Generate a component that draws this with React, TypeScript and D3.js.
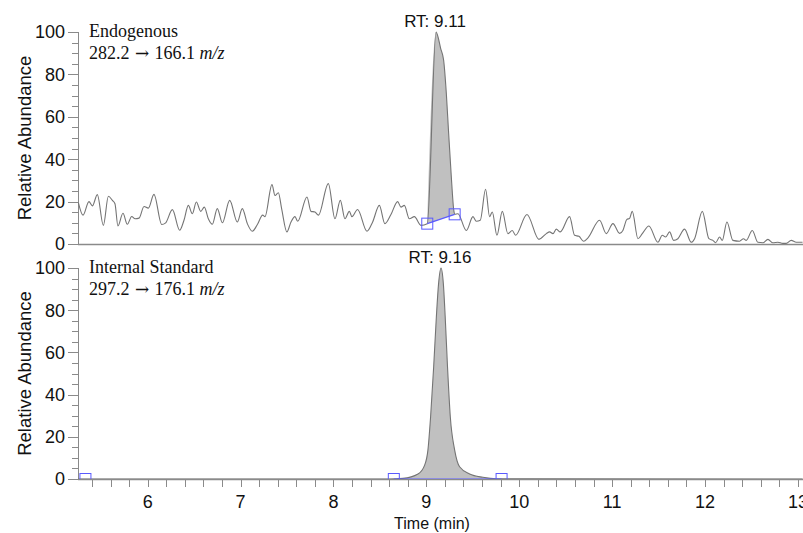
import React from "react";
import * as d3 from "d3";

// ---------- data ----------
const topTime = [
  5.254, 5.304, 5.368, 5.405, 5.458, 5.523, 5.577, 5.62, 5.648, 5.68, 5.734, 5.781, 5.828, 5.864, 5.907, 5.961,
  6.007, 6.068, 6.151, 6.194, 6.266, 6.344, 6.391, 6.438, 6.481, 6.524, 6.571, 6.61, 6.653, 6.696, 6.75, 6.804,
  6.883, 6.965, 7.019, 7.073, 7.127, 7.181, 7.238, 7.263, 7.338, 7.371, 7.407, 7.442, 7.499, 7.543, 7.586, 7.615,
  7.715, 7.758, 7.801, 7.838, 7.945, 8.016, 8.074, 8.124, 8.171, 8.199, 8.26, 8.361, 8.422, 8.494, 8.554, 8.619,
  8.691, 8.727, 8.763, 8.817, 8.871, 8.942, 9.01, 9.105, 9.125, 9.154, 9.186, 9.215, 9.24, 9.269, 9.294, 9.305,
  9.34, 9.431, 9.502, 9.538, 9.581, 9.638, 9.681, 9.71, 9.76, 9.818, 9.878, 9.925, 9.961, 10.083, 10.212, 10.292,
  10.327, 10.363, 10.399, 10.442, 10.542, 10.596, 10.643, 10.693, 10.74, 10.865, 10.937, 11.009, 11.081, 11.116,
  11.159, 11.188, 11.217, 11.278, 11.325, 11.396, 11.493, 11.54, 11.576, 11.619, 11.662, 11.708, 11.78, 11.852,
  11.888, 11.971, 12.042, 12.085, 12.114, 12.157, 12.186, 12.236, 12.3, 12.372, 12.415, 12.444, 12.509, 12.569,
  12.623, 12.677, 12.731, 12.785, 12.838, 12.874, 12.928, 12.982, 13.05,
];
const topValue = [
  19.5, 13.6, 20.0, 18.0, 23.3, 8.8, 22.5, 20.6, 19.0, 8.5, 14.5, 9.3, 13.0, 11.9, 12.2, 17.7,
  16.9, 23.4, 9.2, 10.0, 16.2, 6.5, 11.2, 18.2, 14.3, 19.8, 15.4, 17.4, 11.9, 9.3, 16.7, 10.0,
  20.6, 10.4, 16.7, 9.6, 6.0, 9.2, 13.6, 12.9, 28.0, 22.9, 24.2, 16.7, 5.7, 10.4, 12.9, 10.7,
  22.2, 15.4, 15.1, 13.6, 28.5, 11.9, 20.6, 11.9, 15.4, 12.9, 16.3, 6.0, 10.4, 18.2, 9.6, 13.9,
  20.0, 17.4, 18.2, 11.9, 12.9, 8.8, 9.6, 100, 97.8, 92.3, 86.8, 71.2, 52.4, 31.6, 16.5, 14.0,
  14.3, 6.4, 12.9, 10.7, 11.2, 25.8, 12.9, 15.1, 4.1, 15.4, 4.9, 6.4, 4.1, 13.9, 2.2, 4.9,
  5.7, 4.9, 7.0, 5.7, 12.9, 4.1, 3.6, 1.3, 2.9, 11.2, 4.9, 9.6, 5.0, 6.4,
  11.6, 12.1, 15.4, 2.5, 4.9, 8.5, 0.8, 4.1, 3.3, 5.7, 1.7, 2.5, 7.0, 0.8,
  2.5, 15.4, 2.5, 1.7, 0.6, 3.3, 1.7, 10.4, 1.7, 1.3, 2.5, 1.7, 6.4, 0.8,
  0.6, 2.2, 0.6, 0.8, 0.3, 0.3, 1.7, 0.8, 0.8,
];
const topBoundTime = [9.01, 9.305];
const topBoundValue = [9.6, 14.0];

const botTime = [
  5.25, 8.6, 8.748, 8.91, 8.982, 9.017, 9.046, 9.079, 9.108, 9.132, 9.158, 9.183, 9.203, 9.228, 9.258, 9.305,
  9.358, 9.466, 9.609, 9.754, 13.05,
];
const botValue = [
  0, 0, 0.3, 2.4, 6.6, 13.7, 29.5, 53.2, 76.9, 92.7, 100, 92.7, 76.9, 53.2, 29.5, 13.7,
  5.8, 2.4, 0.8, 0.1, 0,
];
const botBoundTime = [8.65, 9.81];
const botMarkerTime = [5.33, 8.65, 9.81];

const yTicks = [0, 20, 40, 60, 80, 100];
const yMinor = d3.range(0, 101, 5);
const xTickLabels = [6, 7, 8, 9, 10, 11, 12, 13];
const xMinor = d3.range(5.4, 13.05, 0.2);

// ---------- layout ----------
const W = 803;
const H = 533;
const X0 = 78;
const x = d3.scaleLinear().domain([5.25, 13.055]).range([X0, 803]);
const yTop = d3.scaleLinear().domain([0, 100]).range([244, 32]);
const yBot = d3.scaleLinear().domain([0, 100]).range([479, 268]);

const AX = "#8a8a8a";
const TRACE = "#747474";
const FILL = "#c0c0c0";
const BLUE = "#5a5aff";
const SANS = "'Liberation Sans', Arial, sans-serif";
const SERIF = "'Liberation Serif', 'Times New Roman', serif";

function lerpBaseline(bt: number[], bv: number[], t: number) {
  const f = (t - bt[0]) / (bt[1] - bt[0]);
  return bv[0] + f * (bv[1] - bv[0]);
}

function Panel({
  times, values, y, bt, bv, markers, clipId, rt, rtX, title, mzA, mzB, showTicksBelow,
}: any) {
  const pts = times.map((t: number, i: number) => [t, values[i]] as [number, number]);
  const line = d3.line<[number, number]>().x((d) => x(d[0])).y((d) => y(d[1])).curve(d3.curveMonotoneX);
  const inPeak = pts.filter((d) => d[0] >= bt[0] - 1e-9 && d[0] <= bt[1] + 1e-9);
  const area = d3
    .area<[number, number]>()
    .x((d) => x(d[0]))
    .y1((d) => y(d[1]))
    .y0((d) => y(lerpBaseline(bt, bv, d[0])))
    .curve(d3.curveMonotoneX);
  const y0px = y(0);
  const y100 = y(100);
  return (
    <g>
      <defs>
        <clipPath id={clipId}>
          <rect x={X0} y={y100 - 8} width={W - X0} height={y0px - y100 + 8} />
        </clipPath>
      </defs>
      {/* y axis */}
      <line x1={X0 + 0.5} x2={X0 + 0.5} y1={y100} y2={y0px} stroke={AX} strokeWidth={1} />
      {yMinor.map((v) => (
        <line key={"m" + v} x1={X0 - (v % 20 === 0 ? 10 : 6)} x2={X0} y1={Math.round(y(v)) + 0.5} y2={Math.round(y(v)) + 0.5} stroke={AX} />
      ))}
      {yTicks.map((v) => (
        <text key={"t" + v} x={65} y={y(v)} dy="0.36em" textAnchor="end" fontFamily={SANS} fontSize={18} fill="#111">
          {v}
        </text>
      ))}
      <text
        transform={`translate(31,${(y0px + y100) / 2}) rotate(-90)`}
        textAnchor="middle"
        fontFamily={SANS}
        fontSize={18.5}
        fill="#111"
      >
        Relative Abundance
      </text>
      {/* x axis line */}
      <line x1={X0} x2={W} y1={y0px + 0.5} y2={y0px + 0.5} stroke={AX} strokeWidth={1.5} />
      {showTicksBelow &&
        xMinor.map((t) => (
          <line key={"x" + t.toFixed(1)} x1={Math.round(x(t)) + 0.5} x2={Math.round(x(t)) + 0.5} y1={y0px} y2={y0px + 8} stroke={AX} />
        ))}
      <g clipPath={`url(#${clipId})`}>
        <path d={area(inPeak) || ""} fill={FILL} stroke="none" />
        <path d={line(pts) || ""} fill="none" stroke={TRACE} strokeWidth={1.1} />
        <line x1={x(bt[0])} x2={x(bt[1])} y1={y(bv[0])} y2={y(bv[1])} stroke={BLUE} strokeWidth={1.2} />
        {markers.map((m: [number, number], i: number) => (
          <rect key={"mk" + i} x={x(m[0]) - 5.5} y={y(m[1]) - 5.5} width={11} height={11} fill="none" stroke={BLUE} strokeWidth={1} />
        ))}
      </g>
      <text x={rtX} y={y100 - 5} textAnchor="middle" fontFamily={SANS} fontSize={17} fill="#111">
        {rt}
      </text>
      <text x={89} y={y100 + 5} fontFamily={SERIF} fontSize={18} fill="#111">
        {title}
      </text>
      <text x={89} y={y100 + 27} fontFamily={SERIF} fontSize={18} fill="#111">
        {mzA}
        <tspan fontFamily="'DejaVu Serif', serif" fontSize={17}>{" \u2192 "}</tspan>
        {mzB}
        <tspan fontStyle="italic">m/z</tspan>
      </text>
    </g>
  );
}

export default function App() {
  const topMarkers = topBoundTime.map((t, i) => [t, topBoundValue[i]]);
  const botMarkers = botMarkerTime.map((t) => [t, 0]);
  return (
    <svg width={W} height={H} style={{ position: "absolute", left: 0, top: 0, background: "#fff" }}>
      <rect width={W} height={H} fill="#fff" />
      <Panel
        times={topTime}
        values={topValue}
        y={yTop}
        bt={topBoundTime}
        bv={topBoundValue}
        markers={topMarkers}
        clipId="clipTop"
        rt="RT: 9.11"
        rtX={435}
        title="Endogenous"
        mzA="282.2"
        mzB="166.1 "
        showTicksBelow={false}
      />
      <Panel
        times={botTime}
        values={botValue}
        y={yBot}
        bt={botBoundTime}
        bv={[0, 0]}
        markers={botMarkers}
        clipId="clipBot"
        rt="RT: 9.16"
        rtX={440}
        title="Internal Standard"
        mzA="297.2"
        mzB="176.1 "
        showTicksBelow={true}
      />
      {xTickLabels.map((t) => (
        <text key={"xl" + t} x={x(t)} y={508} textAnchor="middle" fontFamily={SANS} fontSize={18} fill="#111">
          {t}
        </text>
      ))}
      <text x={432} y={529} textAnchor="middle" fontFamily={SANS} fontSize={16} fill="#111">
        Time (min)
      </text>
    </svg>
  );
}
